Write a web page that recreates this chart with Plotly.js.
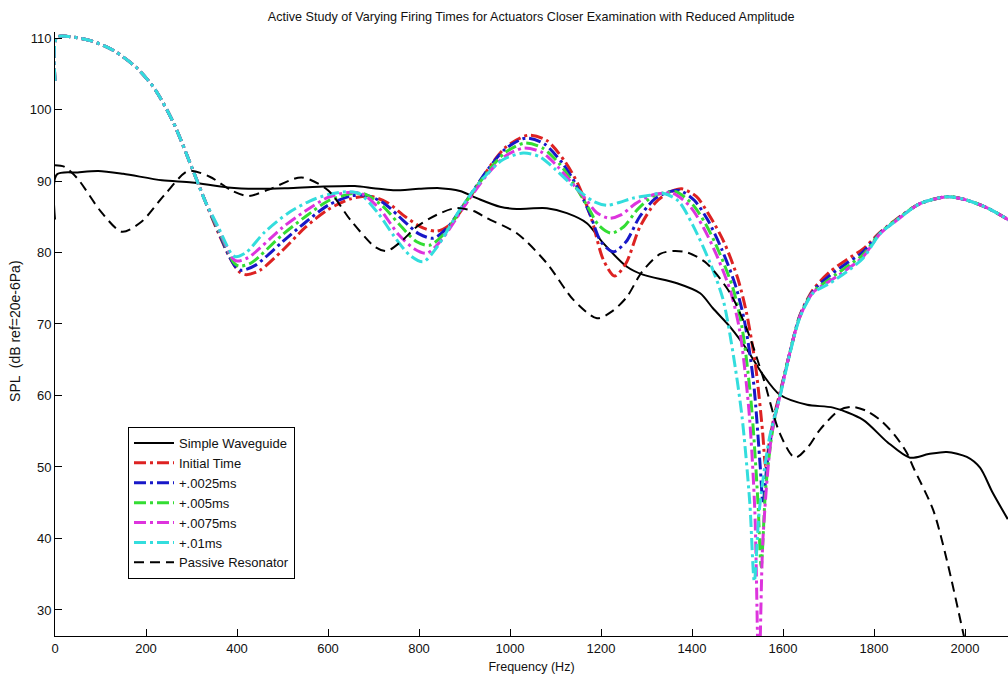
<!DOCTYPE html>
<html>
<head>
<meta charset="utf-8">
<script src="https://cdn.plot.ly/plotly-3.0.1.min.js"></script>
<style>html,body{margin:0;padding:0;background:#fff;}#chart{width:1008px;height:677px;}</style>
</head>
<body>
<div id="chart"></div>
<script>
// ---- Data ----
const seriesNames = ["Simple Waveguide", "Initial Time", "+.0025ms", "+.005ms", "+.0075ms", "+.01ms", "Passive Resonator"];

const freqWaveguide = [0,4,50,95,150,235,301,380,450,512,580,659,700,743,800,846,890,927,978,1015,1081,1125,1169,1205,1257,1292,1367,1418,1446,1485,1521,1556,1593,1653,1710,1776,1829,1879,1920,1960,2004,2033,2060,2094];
const splWaveguide  = [84.6,90.9,91.2,91.4,91.0,90.1,89.8,89.1,88.9,89.0,89.2,89.3,89.0,88.7,88.9,89.0,88.6,87.6,86.4,86.1,86.2,85.5,84.1,81.3,78.0,76.9,75.7,74.3,72.2,69.5,66.4,62.9,60.1,58.7,58.3,56.6,53.5,51.3,51.8,52.1,51.4,49.9,46.5,42.7];

const freqInitial = [0,4,30,80,130,180,220,260,300,330,360,385,405,420,450,500,550,600,650,690,730,770,810,840,870,910,950,990,1040,1080,1120,1150,1180,1205,1230,1255,1285,1320,1350,1378,1410,1440,1470,1500,1520,1540,1555,1562,1570,1582,1595,1615,1637,1666,1703,1740,1776,1813,1850,1900,1960,2000,2050,2100];
const splInitial  = [104,110.1,110.2,109.6,108.2,105.8,102.8,98.2,92.0,87.2,82.6,79.2,77.3,76.9,77.5,80.3,83.5,86.0,87.5,87.9,87.0,85.0,83.4,83.0,84.0,87.5,91.5,94.7,96.4,95.7,92.8,89.5,84.5,79.0,76.7,78.5,83.5,87.0,88.4,88.9,87.8,85.0,81.5,76.5,71.5,64,55,50,53.5,57.5,60.8,66,71.2,74.8,77.3,79.0,80.5,82.8,84.7,86.8,87.8,87.4,86.2,84.4];

const freqT0025 = [0,4,30,80,130,180,220,260,300,330,360,382,398,410,440,500,550,600,650,685,725,765,800,831,860,905,950,990,1035,1075,1115,1145,1175,1200,1227,1255,1285,1320,1350,1372,1405,1435,1465,1495,1515,1535,1550,1556,1566,1580,1595,1615,1637,1666,1703,1740,1776,1813,1850,1900,1960,2000,2050,2100];
const splT0025  = [104,110.1,110.2,109.6,108.2,105.8,102.8,98.2,92.0,87.2,82.8,79.6,77.9,77.5,78.2,81.5,84.2,86.6,87.9,88.0,86.8,84.5,82.6,82.0,83.3,87.3,91.5,94.5,96.0,95.2,92.5,89.5,85.5,81.5,80.1,81.5,85,87.6,88.5,88.7,87.3,84.5,80.5,75.5,70.5,62,50,45,51,56.5,60.6,66,71.1,74.6,76.8,78.5,80.1,82.7,84.6,86.8,87.8,87.4,86.2,84.4];

const freqT005 = [0,4,30,80,130,180,220,260,300,330,360,380,394,404,430,500,550,600,650,680,720,760,795,823,855,900,950,990,1032,1072,1110,1140,1170,1195,1222,1250,1280,1315,1345,1365,1400,1430,1460,1490,1510,1530,1545,1552,1562,1578,1595,1615,1637,1666,1703,1740,1776,1813,1850,1900,1960,2000,2050,2100];
const splT005  = [104,110.1,110.2,109.6,108.2,105.8,102.8,98.2,92.0,87.2,83.0,80.2,78.5,78.1,78.5,82.5,85.0,87.2,88.2,88.2,86.5,83.7,81.5,81.0,82.6,86.8,91.2,94.0,95.3,94.6,92.3,89.6,86.5,83.8,82.7,83.6,86.0,87.9,88.4,88.5,86.8,84,80,75,69.5,59,45,36,47,55.5,60.5,66,71,74.5,76.3,78.0,79.7,82.7,84.6,86.8,87.8,87.4,86.2,84.4];

const freqT0075 = [0,4,30,80,130,180,220,260,300,330,360,378,390,400,425,500,550,600,645,675,715,755,790,817,850,900,950,990,1030,1070,1105,1135,1165,1190,1218,1245,1275,1310,1340,1358,1395,1425,1455,1485,1505,1525,1538,1547,1556,1575,1595,1615,1637,1666,1703,1740,1776,1813,1850,1900,1960,2000,2050,2100];
const splT0075  = [104,110.1,110.2,109.6,108.2,105.8,102.8,98.2,92.0,87.2,83.2,80.7,79.2,78.8,79.3,83.5,85.8,87.7,88.4,88.2,86.0,82.5,80.5,79.9,81.8,86.5,90.9,93.5,94.6,94.0,92.0,89.8,87.6,85.6,84.8,85.3,86.8,88.0,88.3,88.3,86.5,83.5,79.5,74.5,69,58,44,20,40,54.5,60.4,66,71,74.4,76.0,77.6,79.4,82.6,84.5,86.8,87.8,87.4,86.2,84.4];

const freqT01 = [0,4,30,80,130,180,220,260,300,330,360,376,388,397,420,460,512,560,600,640,670,710,745,780,809,840,890,940,985,1029,1065,1100,1130,1160,1185,1213,1240,1270,1308,1336,1370,1402,1440,1468,1490,1510,1527,1537,1548,1570,1595,1615,1637,1666,1703,1740,1776,1813,1850,1900,1960,2000,2050,2100];
const splT01  = [104,110.1,110.2,109.6,108.2,105.8,102.8,98.2,92.0,87.2,83.4,81.2,79.8,79.4,80.0,82.8,85.5,87.2,88.1,88.5,88.2,85.5,82.3,79.6,78.7,80.8,86.0,90.3,93.0,93.9,93.4,91.6,89.8,88.2,87.1,86.6,87.0,87.6,88.0,88.3,87.2,83.8,78.5,73.5,66,57,45,34,44,54,60.3,65.8,70.9,74.3,75.7,77.3,79.2,82.6,84.5,86.8,87.8,87.4,86.2,84.4];

const freqPassive = [0,20,50,100,147,190,240,293,340,390,425,470,542,600,650,703,729,760,795,840,880,920,949,1015,1081,1139,1191,1225,1257,1290,1330,1358,1390,1432,1484,1521,1556,1593,1626,1655,1681,1725,1754,1785,1813,1845,1872,1886,1930,1960,1996,2030];
const splPassive  = [92.2,92.0,90.3,85.8,82.9,84.3,88.0,91.4,90.6,88.6,87.9,88.8,90.5,88.7,84.5,80.8,80.2,81.5,83.6,85.3,86.2,85.8,84.8,82.7,78.5,73.4,70.8,71.8,73.8,77.3,79.8,80.2,80.0,78.5,74.3,69.2,62.6,54.7,51.3,52.8,55.2,58.0,58.4,57.8,56.6,54.5,52.0,50.0,44.0,37.0,26.8,17];

const xTicks = [0,200,400,600,800,1000,1200,1400,1600,1800,2000];
const yTicks = [30,40,50,60,70,80,90,100,110];

const titleText = "Active Study of Varying Firing Times for Actuators Closer Examination with Reduced Amplitude";
const xTitle = "Frequency (Hz)";
const yTitle = "SPL \u00a0(dB ref=20e-6Pa)";

// ---- Styles ----
const dashDot = "12px,4px,3px,4px";
const colors = ["#000000", "#dd2222", "#1818c8", "#33dd33", "#dd33dd", "#33dddd", "#000000"];

const xs = [freqWaveguide, freqInitial, freqT0025, freqT005, freqT0075, freqT01, freqPassive];
const ys = [splWaveguide, splInitial, splT0025, splT005, splT0075, splT01, splPassive];
const dashes = ["solid", dashDot, dashDot, dashDot, dashDot, dashDot, "10px,6px"];
const widths = [2, 3, 3, 3, 3, 3, 2];

const traces = seriesNames.map((n, i) => ({
  type: "scatter", mode: "lines", name: n,
  x: xs[i], y: ys[i],
  line: {color: colors[i], width: widths[i], dash: dashes[i], shape: "spline", smoothing: 0.8}
}));

const fam = "Liberation Sans, Arial, sans-serif";
const tickFont = {family: fam, size: 13, color: "#111"};

const layout = {
  width: 1008, height: 677,
  margin: {l: 55, r: 0, t: 32, b: 41},
  paper_bgcolor: "#fff", plot_bgcolor: "#fff",
  font: {family: fam, size: 12, color: "#111"},
  showlegend: true,
  title: {text: titleText, font: {family: fam, size: 12.6, color: "#111"}, x: 0.527, xanchor: "center", y: 0.975, yanchor: "middle"},
  xaxis: {
    range: [0, 2094.5], tickvals: xTicks, ticktext: xTicks.map(String),
    showline: true, linecolor: "#000", linewidth: 1, mirror: false,
    ticks: "inside", ticklen: 7, tickcolor: "#000", tickwidth: 1,
    showgrid: false, zeroline: false, tickfont: tickFont,
    title: {text: xTitle, font: {family: fam, size: 12.5, color: "#111"}, standoff: 7}
  },
  yaxis: {
    range: [26.36, 110.84], tickvals: yTicks, ticktext: yTicks.map(String),
    showline: true, linecolor: "#000", linewidth: 1, mirror: false,
    ticks: "inside", ticklen: 7, tickcolor: "#000", tickwidth: 1,
    showgrid: false, zeroline: false, tickfont: tickFont,
    title: {text: ""}
  },
  annotations: [{
    text: yTitle, xref: "paper", yref: "paper", x: -0.042, y: 0.505,
    textangle: -90, showarrow: false, xanchor: "center", yanchor: "middle",
    font: {family: fam, size: 14, color: "#111"}
  }],
  legend: {
    x: 0.0766, y: 0.346, xanchor: "left", yanchor: "top",
    bgcolor: "#fff", bordercolor: "#000", borderwidth: 1,
    font: {family: fam, size: 13, color: "#111"}, itemwidth: 40, tracegroupgap: 0
  }
};

Plotly.newPlot("chart", traces, layout, {displayModeBar: false, staticPlot: true});
</script>
</body>
</html>
